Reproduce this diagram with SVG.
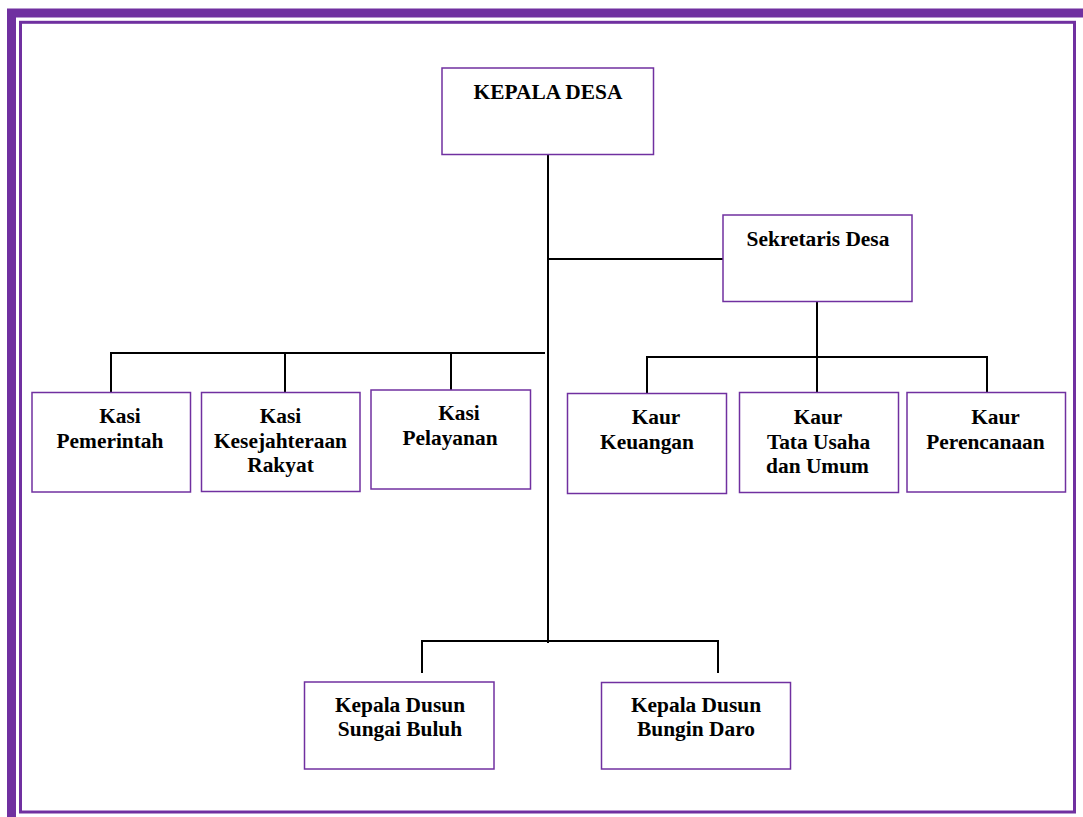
<svg xmlns="http://www.w3.org/2000/svg" width="1083" height="817" viewBox="0 0 1083 817">
<style>
.box{fill:#fff;stroke:#7030A0;stroke-width:1.5}
.t{font-family:"Liberation Serif","Times New Roman",serif;font-weight:bold;font-size:21.4px;fill:#000;text-anchor:middle}
.c{stroke:#000;stroke-width:2;fill:none}
</style>
<rect width="1083" height="817" fill="#fff"/>
<rect x="11.5" y="13" width="1080" height="810" fill="none" stroke="#7030A0" stroke-width="9"/>
<rect x="20.5" y="22.3" width="1054" height="789.7" fill="none" stroke="#7030A0" stroke-width="3"/>
<g id="connectors">
<path class="c" d="M548 155V643"/>
<path class="c" d="M548 259H723"/>
<path class="c" d="M111 392V353H545M285 353V392M451 353V390"/>
<path class="c" d="M817 302V392M647 393V357H987V392"/>
<path class="c" d="M422 673V641H718V673"/>
</g>
<g id="kepala-desa"><rect class="box" x="442" y="68" width="211.5" height="86.5"/><text class="t" x="548" y="98.5">KEPALA DESA</text></g>
<g id="sekretaris-desa"><rect class="box" x="723" y="215" width="189" height="86.5"/><text class="t" x="818" y="246">Sekretaris Desa</text></g>
<g id="kasi-pemerintah"><rect class="box" x="32" y="392.5" width="158.5" height="99.5"/><text class="t" x="120" y="423">Kasi</text><text class="t" x="110" y="447.5">Pemerintah</text></g>
<g id="kasi-kesejahteraan"><rect class="box" x="201.5" y="392.5" width="158.5" height="99"/><text class="t" x="280.5" y="423">Kasi</text><text class="t" x="280.5" y="447.5">Kesejahteraan</text><text class="t" x="280.5" y="472">Rakyat</text></g>
<g id="kasi-pelayanan"><rect class="box" x="371" y="390" width="159.5" height="99"/><text class="t" x="459" y="420">Kasi</text><text class="t" x="450" y="444.5">Pelayanan</text></g>
<g id="kaur-keuangan"><rect class="box" x="567.5" y="393.5" width="159" height="100"/><text class="t" x="656" y="423.5">Kaur</text><text class="t" x="647" y="448.5">Keuangan</text></g>
<g id="kaur-tata-usaha"><rect class="box" x="739.5" y="392.5" width="159" height="100"/><text class="t" x="818" y="423.5">Kaur</text><text class="t" x="818.5" y="448.5">Tata Usaha</text><text class="t" x="817.5" y="472.5">dan Umum</text></g>
<g id="kaur-perencanaan"><rect class="box" x="907" y="392.5" width="158.5" height="99.5"/><text class="t" x="995.5" y="423.5">Kaur</text><text class="t" x="985.5" y="448.5">Perencanaan</text></g>
<g id="kadus-sungai-buluh"><rect class="box" x="304.5" y="682" width="189.5" height="87"/><text class="t" x="400" y="712">Kepala Dusun</text><text class="t" x="400" y="736">Sungai Buluh</text></g>
<g id="kadus-bungin-daro"><rect class="box" x="601.5" y="682.5" width="189" height="86.5"/><text class="t" x="696" y="712">Kepala Dusun</text><text class="t" x="696" y="736">Bungin Daro</text></g>
</svg>
